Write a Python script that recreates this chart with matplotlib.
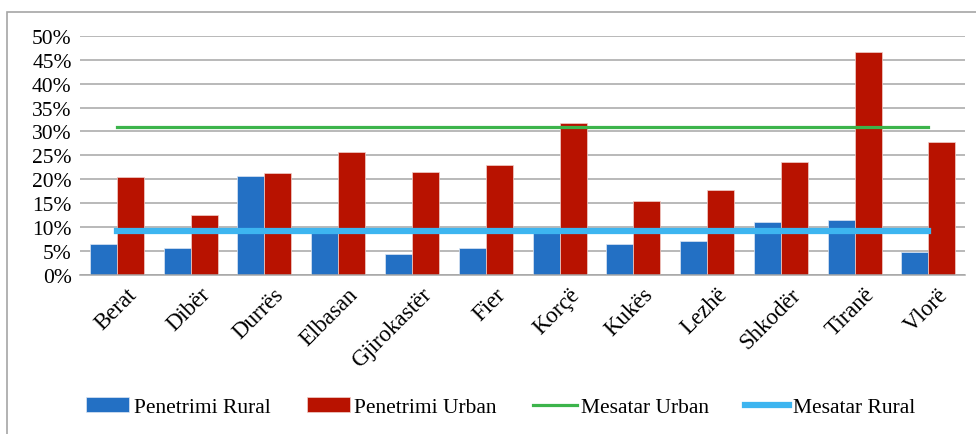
import numpy as np
import matplotlib.pyplot as plt
import matplotlib as mpl
from matplotlib.patches import Rectangle
from matplotlib.transforms import ScaledTranslation

mpl.rcParams['font.family'] = 'Liberation Serif'

# data
qarqe = ['Berat', 'Dibër', 'Durrës', 'Elbasan', 'Gjirokastër', 'Fier',
         'Korçë', 'Kukës', 'Lezhë', 'Shkodër', 'Tiranë', 'Vlorë']
rural = [6.5, 5.6, 20.7, 9.0, 4.4, 5.6, 9.0, 6.5, 7.2, 11.0, 11.5, 4.9]
urban = [20.5, 12.5, 21.3, 25.8, 21.5, 23.0, 31.8, 15.5, 17.7, 23.7, 46.6, 27.8]
mesatar_urban = 31.0
mesatar_rural = 9.1
yticks = [0, 5, 10, 15, 20, 25, 30, 35, 40, 45, 50]

fig = plt.figure(figsize=(9.76, 4.35), dpi=100)
ax = fig.add_axes([0.082, 0.3655, 0.907, 0.5501])

x = np.arange(len(qarqe))
w = 0.366
b1 = ax.bar(x - w / 2, rural, w, color='#2370C4', edgecolor='#dde6f3', linewidth=0.5,
            label='Penetrimi Rural', zorder=2)
b2 = ax.bar(x + w / 2, urban, w, color='#B81200', edgecolor='#f0d0cc', linewidth=0.5,
            label='Penetrimi Urban', zorder=2)
l1, = ax.plot(x, [mesatar_urban] * len(x), color='#3CB44B', linewidth=2.3,
              label='Mesatar Urban', zorder=3)
l2, = ax.plot(x, [mesatar_rural] * len(x), color='#3DB5F0', linewidth=4.5,
              label='Mesatar Rural', zorder=3)

ax.set_xlim(-0.5, len(qarqe) - 0.5)
ax.set_ylim(0, 50)
ax.set_yticks(yticks)
ax.set_yticklabels([f'{t}%' for t in yticks], fontsize=15.5)
ax.yaxis.grid(True, color='#a6a6a6', linewidth=1.1, zorder=0)
ax.set_axisbelow(True)
ax.set_xticks(x)
ax.set_xticklabels(qarqe, rotation=45, ha='right', rotation_mode='anchor', fontsize=16.5)
ax.tick_params(axis='both', length=0, pad=6)
shift = ScaledTranslation(9 / 100, 0, fig.dpi_scale_trans)
for lab in ax.get_xticklabels():
    lab.set_transform(lab.get_transform() + shift)
for s in ['left', 'right', 'top']:
    ax.spines[s].set_visible(False)
ax.spines['bottom'].set_color('#a6a6a6')
ax.spines['bottom'].set_linewidth(1.1)

ax.legend(handles=[b1, b2, l1, l2], loc='center', bbox_to_anchor=(0.513, 0.062),
          bbox_transform=fig.transFigure, ncol=4, frameon=False, fontsize=15.5,
          handlelength=2.0, handletextpad=0.2, columnspacing=1.7)

# outer chart border
fig.patches.append(Rectangle((7 / 976, -0.05), 1.2, 0.05 + 1 - 13 / 435,
                             transform=fig.transFigure, fill=False,
                             edgecolor='#a6a6a6', linewidth=1.2))

plt.savefig('out.png', dpi=100, facecolor='w')
